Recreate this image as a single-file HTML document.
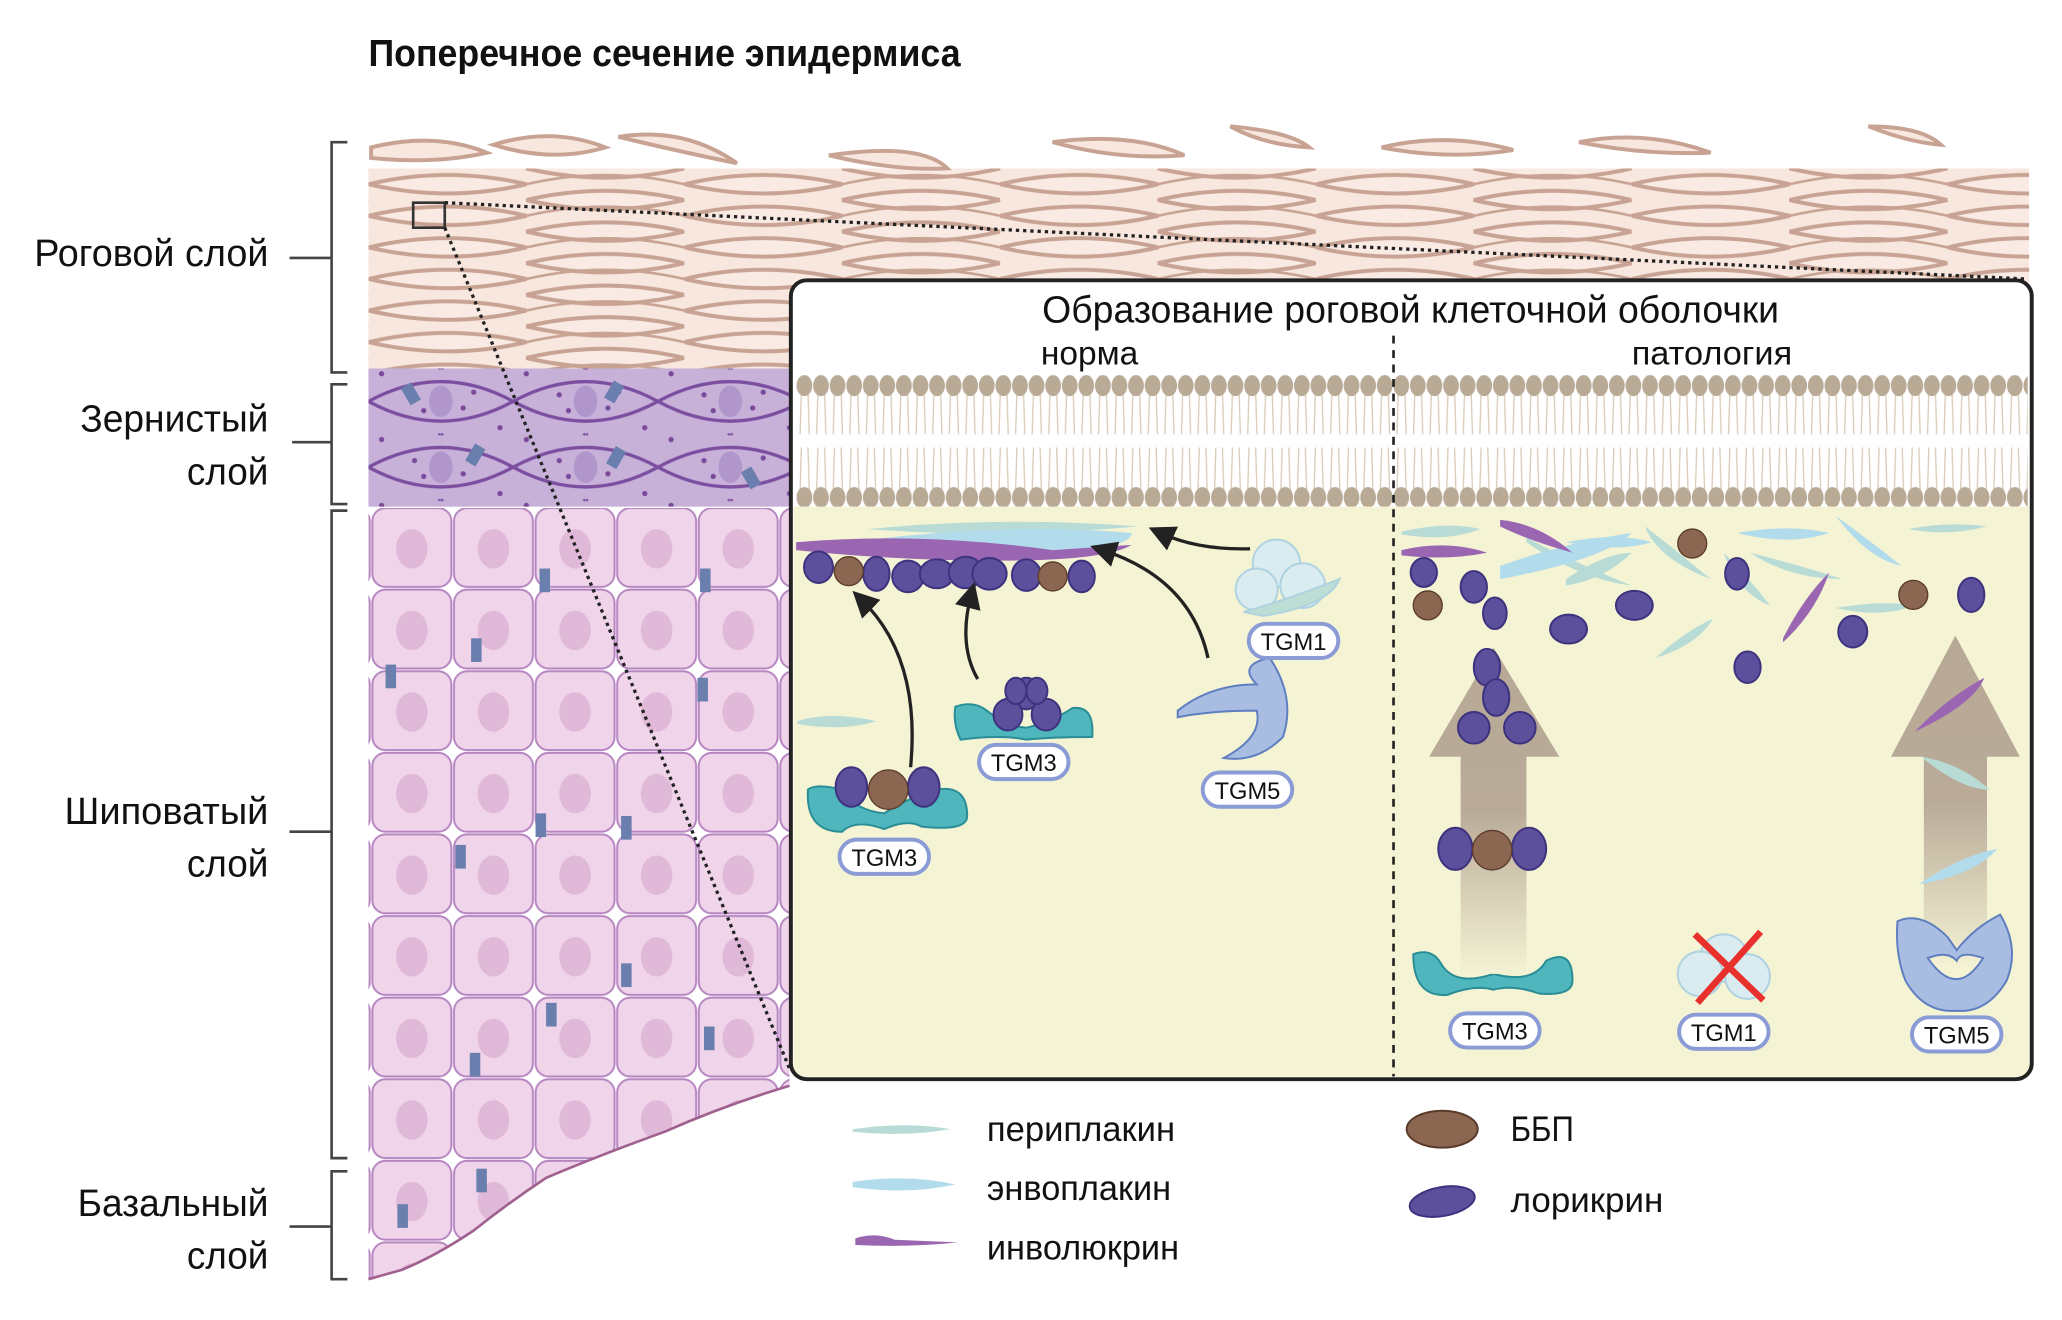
<!DOCTYPE html>
<html><head><meta charset="utf-8"><style>
html,body{margin:0;padding:0;background:#fff;}
svg{display:block}
text{font-family:"Liberation Sans Narrow","Liberation Sans",sans-serif;fill:#111}
</style></head><body>
<svg width="2062" height="1320" viewBox="0 0 1567 1003" preserveAspectRatio="none" xmlns="http://www.w3.org/2000/svg">
<defs>
<pattern id="corn" x="280" y="128" width="240" height="24" patternUnits="userSpaceOnUse">
<rect width="240" height="24" fill="#f8e7df"/>
<path d="M0 12 Q60 -2 120 12 Q60 26 0 12Z M120 0 Q180 -14 240 0 Q180 14 120 0Z M120 24 Q180 10 240 24 Q180 38 120 24Z" fill="#f9ebe4" stroke="#c8a393" stroke-width="3"/>
<path d="M120 12 Q180 -2 240 12 M-120 0 Q-60 -14 0 0 Q-60 14 -120 0" fill="none" stroke="#c8a393" stroke-width="2"/>
</pattern>
<pattern id="gran" x="280" y="280" width="110" height="50" patternUnits="userSpaceOnUse">
<rect width="110" height="50" fill="#c8b1d9"/>
<path d="M0 25 Q55 -5 110 25 Q55 55 0 25Z M-55 0 Q0 -30 55 0 M55 0 Q110 -30 165 0 M-55 50 Q0 80 55 50 M55 50 Q110 80 165 50" fill="none" stroke="#7b4ea0" stroke-width="2.5"/>
<ellipse cx="55" cy="25" rx="9" ry="12" fill="#b196cc"/>
<circle cx="35" cy="20" r="2" fill="#7a4a9a"/><circle cx="72" cy="30" r="2" fill="#7a4a9a"/><circle cx="80" cy="18" r="2" fill="#7a4a9a"/><circle cx="42" cy="32" r="2" fill="#7a4a9a"/>
<circle cx="10" cy="4" r="2" fill="#7a4a9a"/><circle cx="100" cy="45" r="2" fill="#7a4a9a"/>
</pattern>
<pattern id="spin" x="282" y="385" width="62" height="62" patternUnits="userSpaceOnUse">
<rect width="62" height="62" fill="#fff"/>
<rect x="1" y="1" width="60" height="60" rx="10" fill="#f0d5ea" stroke="#b685c1" stroke-width="1.5"/>
<ellipse cx="31" cy="32" rx="12" ry="15" fill="#e0b8d8"/>
</pattern>
<pattern id="lipid" x="605" y="285" width="12.6" height="100" patternUnits="userSpaceOnUse">
<path d="M4 12 L3 45 M9 12 L10 45 M4 55 L3 88 M9 55 L10 88" stroke="#d8cbb8" stroke-width="1"/>
<ellipse cx="6.3" cy="8" rx="6" ry="8" fill="#b9aa96"/>
<ellipse cx="6.3" cy="93" rx="6" ry="8" fill="#b9aa96"/>
</pattern>
<linearGradient id="arr" x1="0" y1="1" x2="0" y2="0"><stop offset="0" stop-color="#f4f2d4"/><stop offset="0.5" stop-color="#b9ab98"/><stop offset="1" stop-color="#b7a996"/></linearGradient>
<marker id="ah" markerWidth="8" markerHeight="8" refX="4" refY="4" orient="auto"><path d="M0 0 L8 4 L0 8Z" fill="#222"/></marker>
</defs>

<text x="280" y="50" font-size="29" font-weight="bold" textLength="450" lengthAdjust="spacingAndGlyphs">Поперечное сечение эпидермиса</text>

<g stroke="#444" stroke-width="2" fill="none">
<path d="M264 108 H252 V283 H264"/><path d="M220 196 H252"/>
<path d="M264 292 H252 V383 H264"/><path d="M222 336 H252"/>
<path d="M264 388 H252 V880 H264"/><path d="M220 632 H252"/>
<path d="M264 890 H252 V972 H264"/><path d="M220 932 H252"/>
</g>
<g font-size="29" text-anchor="end">
<text x="204" y="202" textLength="178" lengthAdjust="spacingAndGlyphs">Роговой слой</text>
<text x="204" y="328" textLength="143" lengthAdjust="spacingAndGlyphs">Зернистый</text>
<text x="204" y="368" textLength="62" lengthAdjust="spacingAndGlyphs">слой</text>
<text x="204" y="626" textLength="155" lengthAdjust="spacingAndGlyphs">Шиповатый</text>
<text x="204" y="666" textLength="62" lengthAdjust="spacingAndGlyphs">слой</text>
<text x="204" y="924" textLength="145" lengthAdjust="spacingAndGlyphs">Базальный</text>
<text x="204" y="964" textLength="62" lengthAdjust="spacingAndGlyphs">слой</text>
</g>

<rect x="280" y="128" width="1262" height="155" fill="url(#corn)"/>
<g fill="#f8e7df" stroke="#c8a393" stroke-width="3">
<path d="M282 112 Q330 100 370 116 Q330 125 282 120Z"/>
<path d="M375 110 Q420 96 460 112 Q420 124 375 110Z"/>
<path d="M470 104 Q520 96 560 124 Q520 116 470 104Z"/>
<path d="M630 118 Q700 108 720 128 Q680 130 630 118Z"/>
<path d="M800 108 Q860 100 900 118 Q850 122 800 108Z"/>
<path d="M935 96 Q980 100 995 112 Q960 110 935 96Z"/>
<path d="M1050 112 Q1100 100 1150 114 Q1100 122 1050 112Z"/>
<path d="M1200 108 Q1250 98 1300 116 Q1250 118 1200 108Z"/>
<path d="M1420 96 Q1460 96 1475 110 Q1450 108 1420 96Z"/>
</g>
<rect x="280" y="280" width="320" height="105" fill="url(#gran)"/>
<g fill="#6a7fae"><rect x="308" y="292" width="9" height="15" transform="rotate(-30 312 300)"/><rect x="462" y="290" width="9" height="15" transform="rotate(30 466 298)"/><rect x="357" y="338" width="9" height="15" transform="rotate(30 361 345)"/><rect x="464" y="340" width="9" height="15" transform="rotate(30 468 347)"/><rect x="566" y="356" width="9" height="15" transform="rotate(-30 570 363)"/></g>
<path d="M280 386 H600 V825 Q550 840 505 860 Q455 878 415 895 Q385 915 360 935 Q330 955 305 965 L280 972Z" fill="url(#spin)"/>
<path d="M600 825 Q550 840 505 860 Q455 878 415 895 Q385 915 360 935 Q330 955 305 965 L280 972" fill="none" stroke="#a0618f" stroke-width="2"/>
<g fill="#6a7fae"><rect x="410" y="432" width="8" height="18"/><rect x="532" y="432" width="8" height="18"/><rect x="358" y="485" width="8" height="18"/><rect x="293" y="505" width="8" height="18"/><rect x="530" y="515" width="8" height="18"/><rect x="407" y="618" width="8" height="18"/><rect x="472" y="620" width="8" height="18"/><rect x="346" y="642" width="8" height="18"/><rect x="472" y="732" width="8" height="18"/><rect x="415" y="762" width="8" height="18"/><rect x="357" y="800" width="8" height="18"/><rect x="535" y="780" width="8" height="18"/><rect x="362" y="888" width="8" height="18"/><rect x="302" y="915" width="8" height="18"/></g>

<rect x="314" y="154" width="24" height="19" fill="none" stroke="#333" stroke-width="2"/>
<g stroke="#222" stroke-width="2.5" stroke-dasharray="2.5 3" fill="none">
<path d="M338 154 L1540 212"/><path d="M338 173 L600 812"/>
</g>

<rect x="601" y="213" width="943" height="607" rx="12" fill="#fff"/>
<rect x="603" y="385" width="939" height="433" fill="#f4f3d4"/>
<rect x="605" y="285" width="936" height="100" fill="url(#lipid)"/>
<rect x="601" y="213" width="943" height="607" rx="12" fill="none" stroke="#222" stroke-width="3"/>
<path d="M1059 255 V818" stroke="#222" stroke-width="2" stroke-dasharray="6 5"/>
<text x="1072" y="245" font-size="29" text-anchor="middle" textLength="560" lengthAdjust="spacingAndGlyphs">Образование роговой клеточной оболочки</text>
<text x="828" y="277" font-size="25" text-anchor="middle" textLength="74" lengthAdjust="spacingAndGlyphs">норма</text>
<text x="1301" y="277" font-size="25" text-anchor="middle" textLength="122" lengthAdjust="spacingAndGlyphs">патология</text>

<g>
<path d="M660 402 Q760 392 865 400 Q760 410 660 402Z" fill="#b8dcd5"/>
<path d="M630 414 Q760 396 860 405 Q860 420 760 420 Q680 424 630 414Z" fill="#b2dcec"/>
<path d="M605 412 Q700 404 800 418 L860 414 Q840 426 760 426 Q680 426 605 418Z" fill="#9a66b2"/>
<g fill="#5c4f9c" stroke="#3d327e" stroke-width="1.5">
<ellipse cx="622" cy="431" rx="11" ry="12"/><ellipse cx="666" cy="436" rx="10" ry="13"/><ellipse cx="690" cy="438" rx="12" ry="12"/><ellipse cx="712" cy="436" rx="13" ry="11"/><ellipse cx="734" cy="435" rx="13" ry="12"/><ellipse cx="752" cy="436" rx="13" ry="12"/><ellipse cx="780" cy="437" rx="11" ry="12"/><ellipse cx="822" cy="438" rx="10" ry="12"/></g>
<g fill="#8b6650" stroke="#5a3a2a" stroke-width="1"><circle cx="645" cy="434" r="11"/><circle cx="800" cy="438" r="11"/></g>
</g>
<g fill="none" stroke="#222" stroke-width="2.5" marker-end="url(#ah)">
<path d="M692 583 Q700 500 655 456"/><path d="M743 516 Q728 490 738 452"/><path d="M918 500 Q905 440 838 418"/><path d="M950 417 Q910 418 882 405"/>
</g>
<g fill="#4fb6be" stroke="#2a8d96" stroke-width="1.5">
<path d="M614 600 Q620 595 640 600 Q650 616 672 618 Q690 606 712 600 Q735 596 735 620 Q735 632 700 628 Q690 622 672 630 Q650 622 640 632 Q612 632 614 600Z"/>
<path d="M726 537 Q740 532 750 540 Q765 552 780 553 Q800 548 815 538 Q832 536 830 560 Q800 560 780 562 Q760 558 730 562 Q724 550 726 537Z"/>
<path d="M1074 725 Q1088 720 1095 732 Q1105 750 1135 740 Q1165 748 1175 730 Q1195 720 1195 745 Q1195 757 1170 755 Q1150 748 1135 752 Q1120 748 1100 756 Q1074 758 1074 725Z"/>
</g>
<g fill="#5c4f9c" stroke="#3d327e" stroke-width="1.5">
<ellipse cx="647" cy="598" rx="12" ry="15"/><ellipse cx="702" cy="598" rx="12" ry="15"/>
<ellipse cx="780" cy="527" rx="10" ry="12"/><ellipse cx="766" cy="543" rx="11" ry="12"/><ellipse cx="795" cy="543" rx="11" ry="12"/><ellipse cx="772" cy="525" rx="8" ry="10"/><ellipse cx="788" cy="525" rx="8" ry="10"/>
</g>
<circle cx="675" cy="600" r="15" fill="#8b6650" stroke="#5a3a2a"/>
<path d="M606 548 Q630 540 666 548 Q640 556 606 550Z" fill="#b8dcd5"/>
<g fill="#d9ecf4" stroke="#a8cfe2" stroke-width="1.5" opacity="0.9"><circle cx="970" cy="428" r="18"/><circle cx="955" cy="448" r="16"/><circle cx="990" cy="445" r="17"/><path d="M945 465 Q980 455 1018 440 Q1010 460 960 468Z" fill="#b8dcd5"/></g>
<path d="M895 540 Q920 520 955 520 Q940 505 965 500 Q985 530 975 560 Q955 580 930 576 Q960 560 955 540 Q920 540 895 545Z" fill="#a9bde3" stroke="#5f7ebf" stroke-width="1.5"/>
<g font-size="18" text-anchor="middle" style="font-family:'Liberation Sans',sans-serif">
<rect x="949" y="474" width="68" height="26" rx="13" fill="#fff" stroke="#8a9bd6" stroke-width="3"/><text x="983" y="494">TGM1</text>
<rect x="744" y="566" width="68" height="26" rx="13" fill="#fff" stroke="#8a9bd6" stroke-width="3"/><text x="778" y="586">TGM3</text>
<rect x="914" y="587" width="68" height="26" rx="13" fill="#fff" stroke="#8a9bd6" stroke-width="3"/><text x="948" y="607">TGM5</text>
<rect x="638" y="638" width="68" height="26" rx="13" fill="#fff" stroke="#8a9bd6" stroke-width="3"/><text x="672" y="658">TGM3</text>
<rect x="1102" y="770" width="68" height="26" rx="13" fill="#fff" stroke="#8a9bd6" stroke-width="3"/><text x="1136" y="790">TGM3</text>
<rect x="1276" y="771" width="68" height="26" rx="13" fill="#fff" stroke="#8a9bd6" stroke-width="3"/><text x="1310" y="791">TGM1</text>
<rect x="1453" y="773" width="68" height="26" rx="13" fill="#fff" stroke="#8a9bd6" stroke-width="3"/><text x="1487" y="793">TGM5</text>
</g>

<path d="M1086 575 L1135 492 L1185 575 H1160 V740 H1110 V575Z" fill="url(#arr)"/>
<path d="M1437 575 L1486 483 L1535 575 H1510 V735 H1462 V575Z" fill="url(#arr)"/>
<g fill="#b8dcd5">
<path d="M1065 404 Q1100 396 1125 402 Q1100 412 1065 406Z"/><path d="M1160 408 Q1180 420 1240 445 Q1200 440 1160 412Z"/><path d="M1250 400 Q1270 415 1300 440 Q1260 425 1250 400Z"/>
<path d="M1310 420 Q1330 440 1345 460 Q1320 450 1310 420Z"/><path d="M1330 420 Q1370 430 1400 440 Q1360 440 1330 420Z"/><path d="M1450 402 Q1480 396 1510 400 Q1480 408 1450 402Z"/>
<path d="M1258 500 Q1280 480 1302 470 Q1290 490 1258 500Z"/><path d="M1395 462 Q1430 456 1455 460 Q1430 470 1395 462Z"/><path d="M1460 575 Q1490 580 1512 600 Q1490 600 1460 575Z"/><path d="M1190 440 Q1220 420 1240 420 Q1220 440 1190 445Z"/>
</g>
<g fill="#b2dcec">
<path d="M1140 430 Q1190 412 1240 405 Q1220 425 1140 440Z"/><path d="M1190 412 Q1230 404 1255 412 Q1230 420 1190 412Z"/><path d="M1320 405 Q1360 398 1390 405 Q1360 415 1320 405Z"/><path d="M1395 392 Q1420 410 1445 430 Q1420 425 1395 392Z"/><path d="M1458 672 Q1490 650 1518 645 Q1500 665 1458 672Z"/>
</g>
<g fill="#9a66b2">
<path d="M1065 418 Q1100 410 1130 420 Q1100 426 1065 422Z"/><path d="M1140 395 Q1170 398 1195 420 Q1160 410 1140 400Z"/><path d="M1355 485 Q1370 455 1390 435 Q1380 465 1355 488Z"/><path d="M1455 556 Q1480 530 1508 515 Q1500 535 1455 556Z"/>
</g>
<g fill="#5c4f9c" stroke="#3d327e" stroke-width="1.5">
<ellipse cx="1082" cy="435" rx="10" ry="11"/><ellipse cx="1120" cy="446" rx="10" ry="12"/><ellipse cx="1136" cy="466" rx="9" ry="12"/><ellipse cx="1192" cy="478" rx="14" ry="11"/><ellipse cx="1242" cy="460" rx="14" ry="11"/><ellipse cx="1320" cy="436" rx="9" ry="12"/><ellipse cx="1328" cy="507" rx="10" ry="12"/><ellipse cx="1408" cy="480" rx="11" ry="12"/><ellipse cx="1498" cy="452" rx="10" ry="13"/>
<ellipse cx="1130" cy="507" rx="10" ry="14"/><ellipse cx="1137" cy="530" rx="10" ry="14"/><ellipse cx="1120" cy="553" rx="12" ry="12"/><ellipse cx="1155" cy="553" rx="12" ry="12"/>
<ellipse cx="1106" cy="645" rx="13" ry="16"/><ellipse cx="1162" cy="645" rx="13" ry="16"/>
</g>
<g fill="#8b6650" stroke="#5a3a2a"><circle cx="1085" cy="460" r="11"/><circle cx="1286" cy="413" r="11"/><circle cx="1454" cy="452" r="11"/><circle cx="1134" cy="646" r="15"/></g>
<g fill="#d9ecf4" stroke="#a8cfe2" stroke-width="1.5" opacity="0.9"><circle cx="1310" cy="728" r="18"/><circle cx="1292" cy="740" r="17"/><circle cx="1328" cy="742" r="17"/></g>
<path d="M1288 710 L1340 760 M1338 708 L1290 762" stroke="#e8302c" stroke-width="5"/>
<path d="M1442 700 Q1460 692 1480 712 L1487 722 Q1500 705 1520 695 Q1535 720 1525 745 Q1510 770 1487 768 Q1462 770 1448 745 Q1440 725 1442 700Z M1465 728 Q1487 760 1507 728 Q1490 722 1487 730 Q1480 722 1465 728Z" fill="#a9bde3" stroke="#5f7ebf" stroke-width="1.5" fill-rule="evenodd"/>

<path d="M648 858 Q690 852 722 858 Q690 864 648 860Z" fill="#b8dcd5"/>
<path d="M648 898 Q690 892 726 900 Q690 908 648 902Z" fill="#b2dcec"/>
<path d="M650 941 Q665 936 680 942 L728 944 Q690 948 650 946Z" fill="#9a66b2"/>
<ellipse cx="1096" cy="858" rx="27" ry="14" fill="#8b6650" stroke="#5a3a2a" stroke-width="1.5"/>
<ellipse cx="1096" cy="913" rx="25" ry="11" fill="#5c4f9c" stroke="#3d327e" stroke-width="1.5" transform="rotate(-10 1096 913)"/>
<g font-size="27">
<text x="750" y="867" textLength="143" lengthAdjust="spacingAndGlyphs">периплакин</text>
<text x="750" y="912" textLength="140" lengthAdjust="spacingAndGlyphs">энвоплакин</text>
<text x="750" y="957" textLength="146" lengthAdjust="spacingAndGlyphs">инволюкрин</text>
<text x="1148" y="867" textLength="48" lengthAdjust="spacingAndGlyphs">ББП</text>
<text x="1148" y="921" textLength="116" lengthAdjust="spacingAndGlyphs">лорикрин</text>
</g>
</svg>
</body></html>
